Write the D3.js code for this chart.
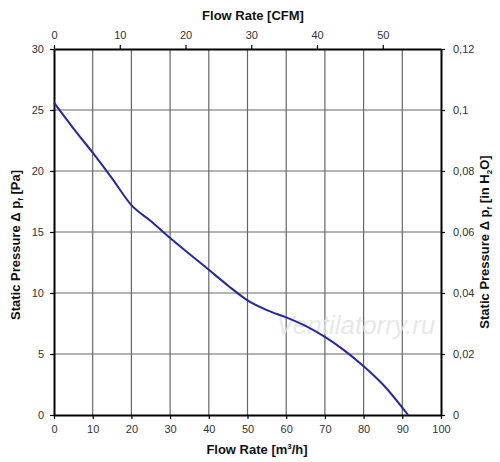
<!DOCTYPE html>
<html>
<head>
<meta charset="utf-8">
<script src="https://cdn.jsdelivr.net/npm/d3@7"></script>
<style>
  body { margin: 0; background: #fff; }
  text { font-family: "Liberation Sans", Arial, sans-serif; }
  .tick text { fill: #333; font-size: 11px; }
  .axisTitle { font-size: 13px; font-weight: bold; fill: #111; }
</style>
</head>
<body>
<div id="chart"></div>
<script>
// flow rate in m3/h and static pressure in Pa
var flow = [0, 5, 10, 15, 20, 25, 30, 35, 40, 45, 50, 55, 60, 65, 70, 75, 80, 85, 91.5];
var pressure = [25.6, 23.5, 21.5, 19.4, 17.2, 15.9, 14.5, 13.2, 11.9, 10.6, 9.4, 8.6, 8.0, 7.3, 6.4, 5.3, 4.0, 2.5, 0];

var flowTicks = [0, 10, 20, 30, 40, 50, 60, 70, 80, 90, 100];
var cfmTicks = [0, 10, 20, 30, 40, 50];
var paTicks = [0, 5, 10, 15, 20, 25, 30];
var inh2oTicks = [0, 0.02, 0.04, 0.06, 0.08, 0.1, 0.12];

var svgWidth = 500;
var svgHeight = 462;

var chartMargin = { top: 49, right: 59, bottom: 47, left: 54 };
var chartWidth = svgWidth - chartMargin.left - chartMargin.right;
var chartHeight = svgHeight - chartMargin.top - chartMargin.bottom;

var svg = d3.select("#chart")
    .append("svg")
    .attr("width", svgWidth)
    .attr("height", svgHeight);

var chartGroup = svg.append("g")
    .attr("transform", `translate(${chartMargin.left}, ${chartMargin.top})`);

var xScale = d3.scaleLinear().domain([0, 100]).range([0, chartWidth]);
// 1 CFM = 1.699 m3/h
var xCfmScale = d3.scaleLinear().domain([0, 100 / 1.699]).range([0, chartWidth]);
var yScale = d3.scaleLinear().domain([0, 30]).range([chartHeight, 0]);
var yInScale = d3.scaleLinear().domain([0, 0.12]).range([chartHeight, 0]);

// grid
chartGroup.append("g")
    .selectAll("line")
    .data(flowTicks.slice(1, -1))
    .enter()
    .append("line")
    .attr("x1", d => xScale(d)).attr("x2", d => xScale(d))
    .attr("y1", 0).attr("y2", chartHeight)
    .attr("stroke", "#666").attr("stroke-width", 1.2);

chartGroup.append("g")
    .selectAll("line")
    .data(paTicks.slice(1, -1))
    .enter()
    .append("line")
    .attr("y1", d => yScale(d)).attr("y2", d => yScale(d))
    .attr("x1", 0).attr("x2", chartWidth)
    .attr("stroke", "#666").attr("stroke-width", 1.2);

// watermark
chartGroup.append("text")
    .attr("x", xScale(78))
    .attr("y", yScale(6.6))
    .attr("text-anchor", "middle")
    .attr("font-size", "26px")
    .attr("font-style", "italic")
    .attr("font-family", "'DejaVu Serif', serif")
    .attr("fill", "#e4e4e4")
    .attr("fill-opacity", 0.85)
    .text("Ventilatorry.ru");

function styleAxis(g) {
    g.select(".domain").attr("stroke", "#000").attr("stroke-width", 2);
    g.selectAll(".tick line").attr("stroke", "#000").attr("stroke-width", 1.2);
}

var bottomAxis = d3.axisBottom(xScale).tickValues(flowTicks).tickSize(4).tickSizeOuter(0).tickPadding(6);
chartGroup.append("g")
    .attr("transform", `translate(0, ${chartHeight})`)
    .call(bottomAxis)
    .call(styleAxis);

var topAxis = d3.axisTop(xCfmScale).tickValues(cfmTicks).tickSize(4).tickSizeOuter(0).tickPadding(6);
chartGroup.append("g")
    .call(topAxis)
    .call(styleAxis);

var leftAxis = d3.axisLeft(yScale).tickValues(paTicks).tickSize(4).tickSizeOuter(0).tickPadding(6);
chartGroup.append("g")
    .call(leftAxis)
    .call(styleAxis);

var rightAxis = d3.axisRight(yInScale).tickValues(inh2oTicks).tickSize(4).tickSizeOuter(0).tickPadding(8)
    .tickFormat(d => String(+d.toFixed(2)).replace(".", ","));
chartGroup.append("g")
    .attr("transform", `translate(${chartWidth}, 0)`)
    .call(rightAxis)
    .call(styleAxis);

// curve
var line = d3.line()
    .x((d, i) => xScale(flow[i]))
    .y(d => yScale(d))
    .curve(d3.curveMonotoneX);

chartGroup.append("path")
    .datum(pressure)
    .attr("d", line)
    .attr("fill", "none")
    .attr("stroke", "#2626a6")
    .attr("stroke-width", 2);

// titles
svg.append("text")
    .attr("class", "axisTitle")
    .attr("x", 253)
    .attr("y", 20)
    .attr("text-anchor", "middle")
    .text("Flow Rate [CFM]");

var bottomTitle = svg.append("text")
    .attr("class", "axisTitle")
    .attr("x", 257)
    .attr("y", 454)
    .attr("text-anchor", "middle");
bottomTitle.append("tspan").text("Flow Rate [m");
bottomTitle.append("tspan").attr("font-size", "8px").attr("dy", -5).text("3");
bottomTitle.append("tspan").attr("dy", 5).text("/h]");

var leftTitle = svg.append("text")
    .attr("class", "axisTitle")
    .attr("transform", "translate(20, 245) rotate(-90)")
    .attr("text-anchor", "middle");
leftTitle.append("tspan").text("Static Pressure \u0394 p");
leftTitle.append("tspan").attr("font-size", "8px").attr("dy", 3).text("f");
leftTitle.append("tspan").attr("dy", -3).text(" [Pa]");

var rightTitle = svg.append("text")
    .attr("class", "axisTitle")
    .attr("transform", "translate(489, 242) rotate(-90)")
    .attr("text-anchor", "middle");
rightTitle.append("tspan").text("Static Pressure \u0394 p");
rightTitle.append("tspan").attr("font-size", "8px").attr("dy", 3).text("f");
rightTitle.append("tspan").attr("dy", -3).text(" [in H");
rightTitle.append("tspan").attr("font-size", "8px").attr("dy", 3).text("2");
rightTitle.append("tspan").attr("dy", -3).text("O]");
</script>
</body>
</html>
